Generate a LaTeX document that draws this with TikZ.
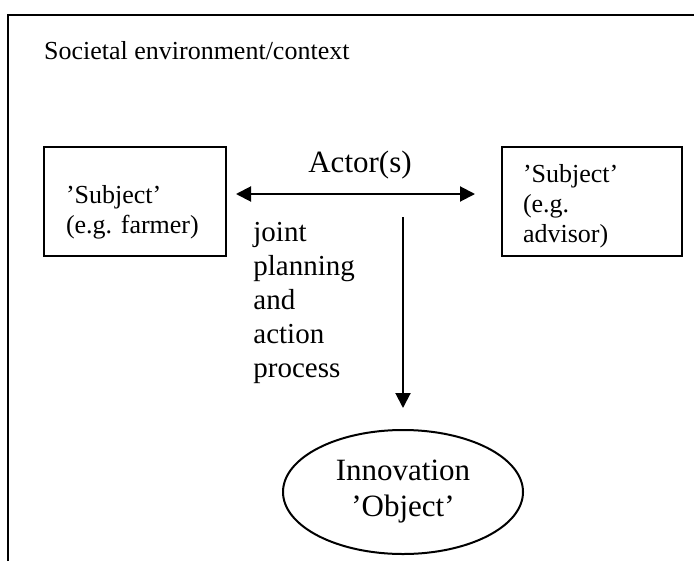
\documentclass[tikz,border=0pt]{standalone}
\usepackage{fontspec}
\setmainfont{Liberation Serif}
\frenchspacing
\usetikzlibrary{arrows.meta, positioning, shapes}

\begin{document}
\begin{tikzpicture}[x=0.5pt, y=-0.5pt, >={Triangle[length=7.5pt, width=7.5pt]},
    subjbox/.style={draw, line width=1pt, anchor=north west, minimum height=54.5pt, align=left, font=\fontsize{13}{15}\selectfont},
    bigtext/.style={font=\fontsize{15.5}{18}\selectfont},
    arr/.style={line width=1pt}]
        \useasboundingbox (0,0) rectangle (694,561);
        % Frame of the environment
        \draw[line width=1pt] (8,561) -- (8,15) -- (694,15);
        \node[anchor=base west, font=\fontsize{13}{15}\selectfont] (context) at (37,60) {Societal environment/context};
        % Subjects
        \node[subjbox, minimum width=91pt, text width=69pt, inner xsep=11pt] (farmer) at (43,146) {
          \rule{0pt}{20pt}'Subject'\\
          (e.g. farmer)
        };
        \node[subjbox, minimum width=90pt, text width=69pt, inner xsep=10.5pt] (advisor) at (501,146) {
          \rule{0pt}{14pt}'Subject'\\
          (e.g.\\
          advisor)
        };
        % Actors
        \node[bigtext, anchor=base] (actor) at (360,172) {Actor(s)};
        \coordinate (actL) at (236,194);
        \coordinate (actR) at (475,194);
        \draw[arr, <->] (actL) -- (actR);
        % Process
        \node[anchor=north west, inner sep=0, align=left, font=\fontsize{14.5}{17}\selectfont] (process) at (253,222) {
          joint\\
          planning\\
          and\\
          action\\
          process
        };
        % Innovation
        \node[ellipse, draw, line width=1pt, minimum width=120pt, minimum height=62pt, align=center, bigtext] (innov) at (403,492) {
          Innovation\\
          'Object'
        };
        \coordinate (procTop) at (403,217);
        \draw[arr, ->, shorten >=10.5pt] (procTop) -- (innov.north);
      \end{tikzpicture}
\end{document}
